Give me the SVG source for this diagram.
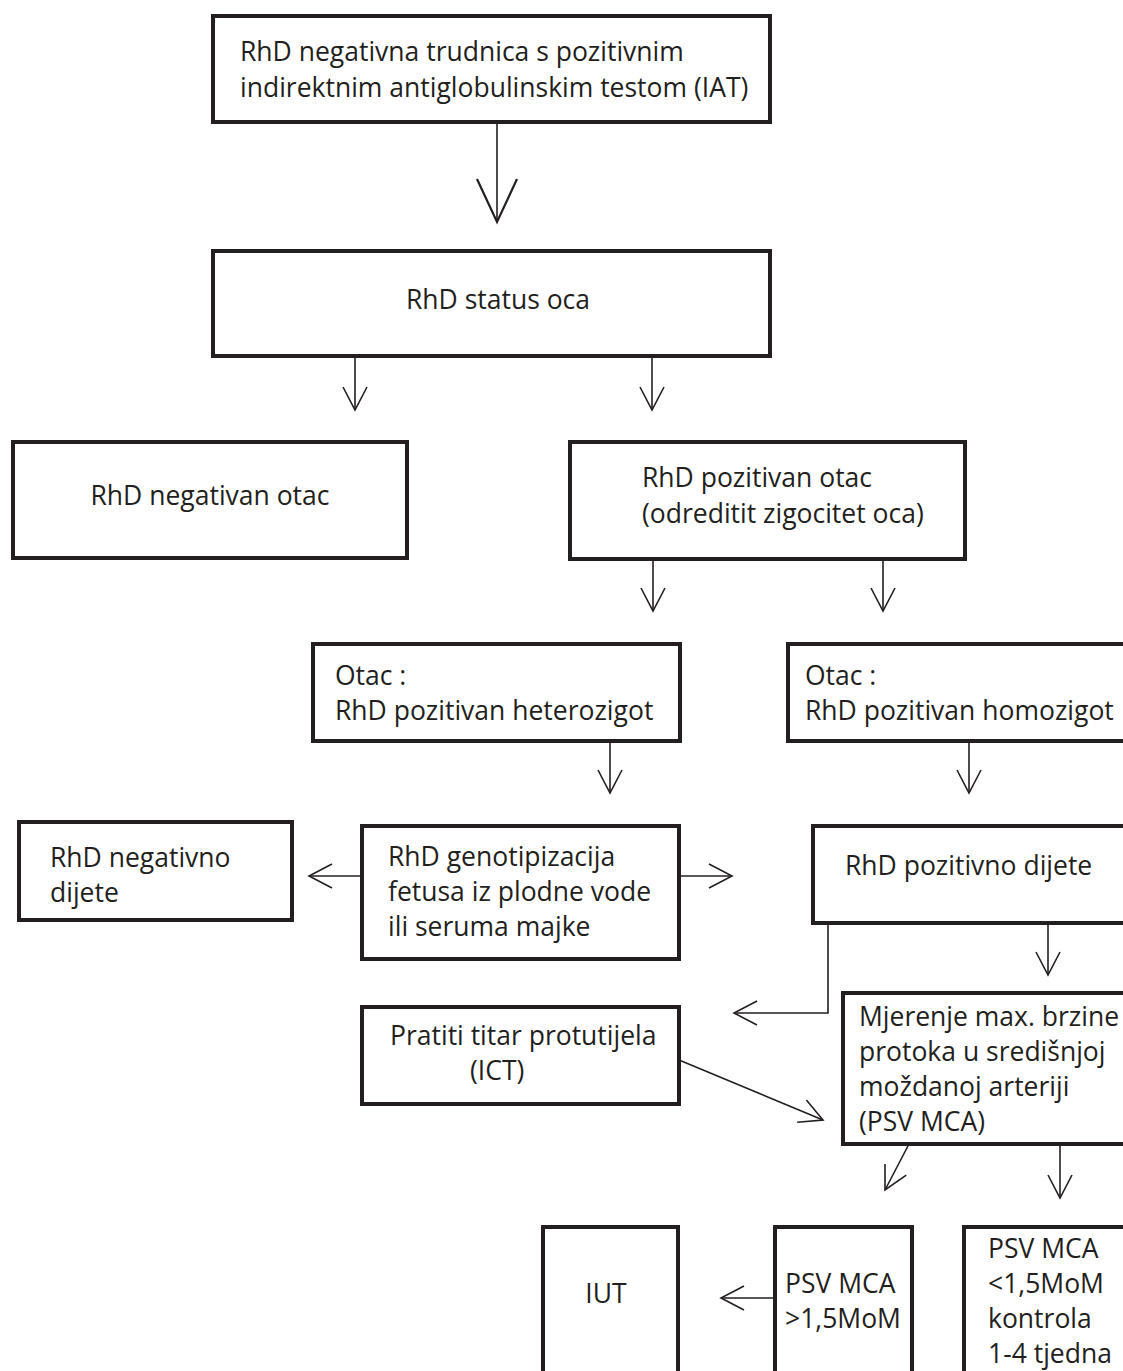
<svg xmlns="http://www.w3.org/2000/svg" width="1123" height="1371" viewBox="0 0 1123 1371">
<style>
.box{fill:#fff;stroke:#231f20;stroke-width:4}
.t{font-family:"Open Sans","Noto Sans",sans-serif;font-size:26.5px;fill:#231f20}
.c{fill:none;stroke:#231f20;stroke-width:1.6}
</style>
<defs>
<marker id="ah" markerUnits="userSpaceOnUse" viewBox="-2 -2 28 28" refX="23" refY="12" markerWidth="28" markerHeight="28" orient="auto">
<path d="M0,0 L23,12 L0,24" fill="none" stroke="#231f20" stroke-width="1.6"/>
</marker>
<marker id="big" markerUnits="userSpaceOnUse" viewBox="-2 -2 48 44" refX="43" refY="20" markerWidth="48" markerHeight="44" orient="auto">
<path d="M0,0 L43,20 L0,40" fill="none" stroke="#231f20" stroke-width="2.2"/>
</marker>
</defs>
<rect width="1123" height="1371" fill="#fff"/>
<g id="connectors">
<line class="c" x1="497" y1="122" x2="497" y2="222" stroke-width="2.2" marker-end="url(#big)"/>
<line class="c" x1="355" y1="356" x2="355" y2="410" marker-end="url(#ah)"/>
<line class="c" x1="652" y1="356" x2="652" y2="410" marker-end="url(#ah)"/>
<line class="c" x1="653" y1="559" x2="653" y2="611" marker-end="url(#ah)"/>
<line class="c" x1="883" y1="559" x2="883" y2="611" marker-end="url(#ah)"/>
<line class="c" x1="610" y1="741" x2="610" y2="793" marker-end="url(#ah)"/>
<line class="c" x1="969" y1="741" x2="969" y2="793" marker-end="url(#ah)"/>
<line class="c" x1="362" y1="876" x2="309" y2="876" marker-end="url(#ah)"/>
<line class="c" x1="679" y1="876" x2="732" y2="876" marker-end="url(#ah)"/>
<line class="c" x1="1048" y1="923" x2="1048" y2="975" marker-end="url(#ah)"/>
<path class="c" d="M828,923 V1013 H734" marker-end="url(#ah)"/>
<line class="c" x1="679" y1="1060" x2="823" y2="1120" marker-end="url(#ah)"/>
<line class="c" x1="909" y1="1144" x2="885" y2="1190" marker-end="url(#ah)"/>
<line class="c" x1="1060" y1="1144" x2="1060" y2="1198" marker-end="url(#ah)"/>
<line class="c" x1="775" y1="1298" x2="721" y2="1298" marker-end="url(#ah)"/>
</g>
<g id="n1"><rect class="box" x="213" y="16" width="557" height="106"/>
<text class="t" x="240" y="61">RhD negativna trudnica s pozitivnim</text>
<text class="t" x="240" y="97">indirektnim antiglobulinskim testom (IAT)</text></g>
<g id="n2"><rect class="box" x="213" y="251" width="557" height="105"/>
<text class="t" x="498" y="309" text-anchor="middle">RhD status oca</text></g>
<g id="n3"><rect class="box" x="13" y="442" width="394" height="116"/>
<text class="t" x="210" y="505" text-anchor="middle">RhD negativan otac</text></g>
<g id="n4"><rect class="box" x="570" y="442" width="395" height="117"/>
<text class="t" x="642" y="487">RhD pozitivan otac</text>
<text class="t" x="642" y="523">(odreditit zigocitet oca)</text></g>
<g id="n5"><rect class="box" x="313" y="644" width="367" height="97"/>
<text class="t" x="335" y="685">Otac :</text>
<text class="t" x="335" y="720">RhD pozitivan heterozigot</text></g>
<g id="n6"><rect class="box" x="788" y="644" width="345" height="97"/>
<text class="t" x="805" y="685">Otac :</text>
<text class="t" x="805" y="720">RhD pozitivan homozigot</text></g>
<g id="n7"><rect class="box" x="19" y="822" width="273" height="98"/>
<text class="t" x="50" y="867">RhD negativno</text>
<text class="t" x="50" y="902">dijete</text></g>
<g id="n8"><rect class="box" x="362" y="826" width="317" height="133"/>
<text class="t" x="388" y="866">RhD genotipizacija</text>
<text class="t" x="388" y="901">fetusa iz plodne vode</text>
<text class="t" x="388" y="936">ili seruma majke</text></g>
<g id="n9"><rect class="box" x="813" y="826" width="320" height="97"/>
<text class="t" x="845" y="875">RhD pozitivno dijete</text></g>
<g id="n10"><rect class="box" x="362" y="1007" width="317" height="97"/>
<text class="t" x="390" y="1045">Pratiti titar protutijela</text>
<text class="t" x="470" y="1080">(ICT)</text></g>
<g id="n11"><rect class="box" x="843" y="993" width="290" height="151"/>
<text class="t" x="859" y="1026">Mjerenje max. brzine</text>
<text class="t" x="859" y="1061">protoka u središnjoj</text>
<text class="t" x="859" y="1096">moždanoj arteriji</text>
<text class="t" x="859" y="1131">(PSV MCA)</text></g>
<g id="n12"><rect class="box" x="543" y="1227" width="135" height="160"/>
<text class="t" x="606" y="1303" text-anchor="middle">IUT</text></g>
<g id="n13"><rect class="box" x="775" y="1227" width="137" height="160"/>
<text class="t" x="785" y="1293">PSV MCA</text>
<text class="t" x="785" y="1328">&gt;1,5MoM</text></g>
<g id="n14"><rect class="box" x="964" y="1227" width="170" height="160"/>
<text class="t" x="988" y="1258">PSV MCA</text>
<text class="t" x="988" y="1293">&lt;1,5MoM</text>
<text class="t" x="988" y="1328">kontrola</text>
<text class="t" x="988" y="1363">1-4 tjedna</text></g>
</svg>
